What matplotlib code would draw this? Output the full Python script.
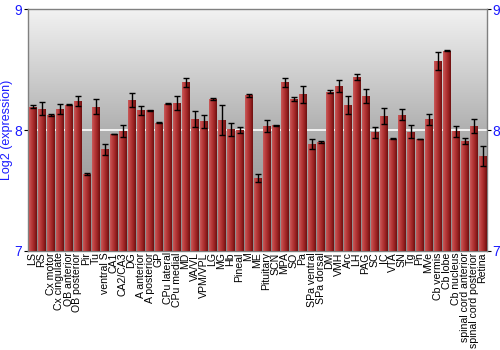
import numpy as np
import matplotlib
matplotlib.use("Agg")
import matplotlib.pyplot as plt
from matplotlib.colors import LinearSegmentedColormap

regions = ["LS", "RS", "Cx motor", "Cx cingulate", "OB anterior", "OB posterior", "Pir", "Tu",
           "ventral S", "CA1", "CA2/CA3", "DG", "A anterior", "A posterior", "GP", "CPu lateral",
           "CPu medial", "MD", "VA/VL", "VPM/VPL", "LG", "MG", "Hb", "Pineal", "M", "ME",
           "Pituitary", "SCN", "MPA", "SO", "Pa", "SPa ventral", "SPa dorsal", "DM", "VMH", "Arc",
           "LH", "PAG", "SC", "IC", "VTA", "SN", "Tg", "Pn", "MVe", "Cb vermis", "Cb lobe",
           "Cb nucleus", "spinal cord anterior", "spinal cord posterior", "Retina"]

values = [8.193, 8.176, 8.124, 8.174, 8.209, 8.240, 7.634, 8.193,
          7.840, 7.967, 7.990, 8.248, 8.163, 8.163, 8.060, 8.218,
          8.223, 8.394, 8.091, 8.072, 8.253, 8.083, 8.008, 8.000, 8.287, 7.603,
          8.036, 8.039, 8.394, 8.256, 8.295, 7.887, 7.901, 8.317, 8.364, 8.209,
          8.438, 8.278, 7.981, 8.118, 7.928, 8.127, 7.986, 7.926, 8.088, 8.570, 8.656,
          7.989, 7.912, 8.033, 7.788]

errors = [0.010, 0.055, 0.010, 0.043, 0.005, 0.044, 0.010, 0.063,
          0.047, 0.003, 0.050, 0.055, 0.036, 0.003, 0.006, 0.005,
          0.055, 0.039, 0.069, 0.055, 0.008, 0.128, 0.054, 0.028, 0.010, 0.033,
          0.050, 0.003, 0.036, 0.017, 0.070, 0.040, 0.005, 0.010, 0.052, 0.074,
          0.022, 0.058, 0.043, 0.066, 0.003, 0.047, 0.052, 0.003, 0.045, 0.076, 0.003,
          0.045, 0.025, 0.057, 0.083]

y_ticks = [7, 8, 9]
y_min, y_max = 7, 9

blue = "#1a1aff"
fig = plt.figure(figsize=(5, 3.5), dpi=100)
ax = fig.add_axes([0.056, 0.283, 0.918, 0.691])

n = len(regions)
x = np.arange(n)
ax.set_xlim(-0.5, n - 0.5)
ax.set_ylim(y_min, y_max)

# background gradient
bg = LinearSegmentedColormap.from_list("bg", ["#8a8a8a", "#b0b0b0", "#f2f2f2"])
grad = np.linspace(0, 1, 256).reshape(-1, 1)
ax.imshow(grad, cmap=bg, aspect="auto", origin="lower",
          extent=(-0.5, n - 0.5, y_min, y_max), zorder=0)
ax.axhline(8, color="white", lw=1.2, zorder=1)

# bars with horizontal gradient
barcm = LinearSegmentedColormap.from_list("bar", ["#c85a5a", "#b83a3a", "#9c2424", "#6e1010"])
hgrad = np.linspace(0, 1, 64).reshape(1, -1)
w = 0.86
bars = ax.bar(x, np.array(values) - y_min, bottom=y_min, width=w, color="#b03434",
              edgecolor="none", zorder=2)
for b in bars:
    x0 = b.get_x()
    im = ax.imshow(hgrad, cmap=barcm, aspect="auto",
                   extent=(x0, x0 + b.get_width(), y_min, y_min + b.get_height()), zorder=3)
    im.set_clip_path(b)

ax.errorbar(x, values, yerr=errors, fmt="none", ecolor="black", elinewidth=1,
            capsize=2.2, capthick=1, zorder=4)

ax.set_xticks(x)
ax.set_xticklabels(regions, rotation=90, fontsize=7.6, family="Liberation Sans")
ax.tick_params(axis="x", length=0, pad=1)

ax.set_yticks(y_ticks)
ax.tick_params(axis="y", length=3, width=0.8, color="black", labelcolor=blue,
               labelsize=10, pad=1, right=True, labelright=True)
for lab in ax.get_yticklabels():
    lab.set_family("Liberation Sans")
ax.set_ylabel("Log2 (expression)", color=blue, fontsize=9, family="Liberation Sans", labelpad=1)

for s in ax.spines.values():
    s.set_color("#808080")
    s.set_linewidth(1)

fig.savefig("out.png", dpi=100)
